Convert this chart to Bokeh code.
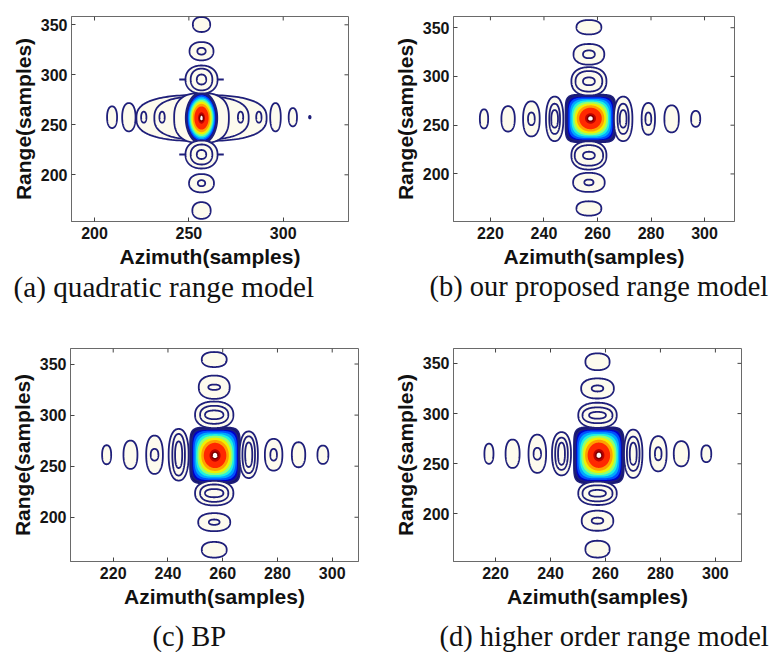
import numpy as np
from bokeh.plotting import figure
from bokeh.models import Range1d, FixedTicker
from bokeh.core.properties import value
from bokeh.layouts import column, row
from bokeh.embed import file_html
from bokeh.resources import INLINE

# ---------------- data ----------------
YTICKS = [200, 250, 300, 350]
A_XTICKS = [200, 250, 300]
BCD_XTICKS = [220, 240, 260, 280, 300]

# (a) quadratic range model
A_XLIM = [187.8, 334.6]
A_YLIM = [153.3, 358.3]
A_CORE = [256.7, 256.8, 16.8, 51.6]          # azimuth, range, width, height
A_ENV_W = [69.0, 50.0, 29.0]                  # envelope contours around main lobe
A_ENV_H = [46.0, 43.0, 50.0]
A_SPIKE_RG = [295.3, 220.3]
A_RING_AZ = [256.7, 256.7, 256.7, 256.7, 256.7, 256.7, 256.7, 256.7, 256.7, 256.7, 256.7, 256.7,
             209.3, 218.2, 226.1, 235.8, 277.4, 287.1, 295.9, 305.1, 314.1]
A_RING_RG = [350.3, 323.6, 323.6, 295.3, 295.3, 295.3, 220.3, 220.3, 220.3, 191.6, 191.6, 164.3,
             257.6, 257.6, 257.6, 257.6, 257.6, 257.6, 257.6, 257.6, 257.6]
A_RING_W = [9.2, 12.7, 4.4, 17.0, 11.5, 5.0, 17.0, 11.5, 5.0, 13.2, 3.9, 9.7,
            5.3, 7.1, 2.8, 2.8, 2.8, 2.8, 5.6, 4.4, 0.8]
A_RING_H = [15.0, 18.3, 6.7, 28.0, 21.7, 10.0, 28.0, 20.0, 9.0, 18.3, 6.0, 16.7,
            21.7, 28.3, 11.0, 11.0, 11.0, 11.0, 28.3, 18.3, 2.5]

# (b) our proposed range model
B_XLIM = [206.2, 311.2]
B_YLIM = [151.2, 361.5]
B_CORE = [257.4, 256.9, 18.7, 49.0]
B_RING_AZ = [217.6, 226.6, 235.3, 235.3, 244.0, 244.0, 244.0, 269.6, 269.6, 269.6, 279.0, 279.0, 287.7, 296.7,
             256.8, 256.8, 256.8, 256.8, 256.8, 256.8, 256.8, 256.8, 256.8, 256.8, 256.8, 256.8]
B_RING_RG = [256.5, 256.5, 256.5, 256.5, 256.5, 256.5, 256.5, 256.5, 256.5, 256.5, 256.5, 256.5, 256.5, 256.5,
             350.5, 322.7, 322.7, 295.0, 295.0, 295.0, 219.0, 219.0, 219.0, 191.3, 191.3, 164.6]
B_RING_W = [3.1, 5.0, 6.2, 2.5, 6.5, 4.0, 2.5, 6.9, 4.2, 2.5, 5.0, 2.2, 5.4, 3.4,
            9.3, 11.5, 4.4, 13.1, 10.0, 4.4, 13.1, 10.6, 4.4, 11.8, 3.4, 9.3]
B_RING_H = [19.6, 26.0, 36.0, 13.0, 45.6, 31.0, 18.0, 45.6, 31.0, 18.0, 32.6, 13.0, 27.7, 16.3,
            14.7, 21.2, 8.0, 29.0, 21.0, 8.0, 29.0, 21.0, 7.5, 19.6, 5.9, 14.7]

# (c) BP
C_XLIM = [204.4, 309.6]
C_YLIM = [156.7, 365.2]
C_CORE = [257.2, 260.5, 18.3, 55.0]
C_RING_AZ = [217.6, 226.3, 235.1, 235.1, 243.9, 243.9, 243.9, 269.5, 269.5, 269.5, 278.6, 278.6, 287.7, 296.6,
             256.9, 256.9, 256.9, 256.9, 256.9, 256.9, 256.9, 256.9, 256.9, 256.9, 256.9, 256.9]
C_RING_RG = [261.2, 261.2, 261.2, 261.2, 261.2, 261.2, 261.2, 261.2, 261.2, 261.2, 261.2, 261.2, 261.2, 261.2,
             354.4, 327.3, 327.3, 300.3, 300.3, 300.3, 223.6, 223.6, 223.6, 195.2, 195.2, 168.2]
C_RING_W = [3.3, 5.1, 6.1, 2.8, 7.3, 4.6, 2.6, 6.7, 4.6, 2.6, 6.4, 2.4, 4.9, 4.0,
            9.1, 11.3, 4.3, 14.0, 10.3, 6.7, 14.0, 10.3, 6.7, 11.7, 3.9, 9.1]
C_RING_H = [18.6, 27.7, 37.5, 11.4, 50.5, 40.7, 26.0, 45.6, 36.0, 24.0, 31.0, 11.4, 24.5, 18.0,
            14.7, 22.8, 5.2, 26.0, 17.6, 8.5, 24.0, 17.0, 8.0, 17.6, 5.2, 15.3]

# (d) higher order range model
D_XLIM = [204.7, 309.5]
D_YLIM = [152.7, 364.8]
D_CORE = [257.6, 258.5, 18.2, 56.0]
D_RING_AZ = [217.6, 226.2, 235.2, 235.2, 244.0, 244.0, 244.0, 270.1, 270.1, 270.1, 279.2, 279.2, 287.6, 296.7,
             257.1, 257.1, 257.1, 257.1, 257.1, 257.1, 257.1, 257.1, 257.1, 257.1, 257.1, 257.1]
D_RING_RG = [260.0, 260.0, 260.0, 260.0, 260.0, 260.0, 260.0, 260.0, 260.0, 260.0, 260.0, 260.0, 260.0, 260.0,
             351.6, 325.0, 325.0, 298.3, 298.3, 298.3, 220.6, 220.6, 220.6, 193.3, 193.3, 165.0]
D_RING_W = [3.3, 5.1, 6.4, 2.7, 6.9, 4.6, 2.5, 6.7, 4.6, 2.5, 6.1, 2.4, 5.5, 3.6,
            8.8, 11.9, 4.2, 14.0, 10.9, 6.1, 14.0, 10.9, 6.1, 11.5, 4.2, 8.8]
D_RING_H = [20.0, 28.3, 38.0, 11.7, 43.0, 32.0, 22.0, 48.0, 34.0, 22.0, 35.0, 13.0, 25.0, 16.7,
            16.7, 20.0, 6.0, 25.0, 15.7, 6.7, 23.3, 16.0, 6.7, 20.0, 6.0, 16.7]

CAPTIONS = ["(a) quadratic range model", "(b) our proposed range model",
            "(c) BP", "(d) higher order range model"]

# ---------------- style ----------------
NAVY = "#1f1f7a"
RING_FILL = "#fdfbee"
AXIS_GRAY = "#6a6a6a"
TICK_LEN = 4
CORE_FRAC = [1.0, 0.94, 0.88, 0.82, 0.76, 0.70, 0.63, 0.55, 0.45, 0.22, 0.12]
CORE_EXP = [6.0, 5.0, 4.2, 3.6, 3.0, 2.6, 2.3, 2.1, 2.0, 2.0, 2.0]
CORE_COL = ["#14146e", "#0000c8", "#0050ff", "#00a8ff", "#20f0e0", "#90ff70",
            "#f0f000", "#ffa000", "#ff2800", "#c00000", "#ffffff"]


def superellipse(cx, cy, w, h, n, m=160):
    t = np.linspace(0, 2 * np.pi, m)
    c, s = np.cos(t), np.sin(t)
    x = cx + (w / 2.0) * np.sign(c) * np.abs(c) ** (2.0 / n)
    y = cy + (h / 2.0) * np.sign(s) * np.abs(s) ** (2.0 / n)
    return x.tolist(), y.tolist()


def rings(az, rg, w, h, n):
    xs, ys = [], []
    for a_, r_, w_, h_ in zip(az, rg, w, h):
        x, y = superellipse(a_, r_, w_, h_, n)
        xs.append(x)
        ys.append(y)
    return xs, ys


def panel(w, h, xlim, ylim, borders, xticks):
    left, right, top, bottom = borders
    p = figure(width=w, height=h, x_range=Range1d(*xlim), y_range=Range1d(*ylim),
               output_backend="svg", toolbar_location=None,
               min_border_left=left, min_border_right=right,
               min_border_top=top, min_border_bottom=bottom)
    p.xaxis.ticker = FixedTicker(ticks=xticks)
    p.yaxis.ticker = FixedTicker(ticks=YTICKS)
    p.xaxis.axis_label = "Azimuth(samples)"
    p.yaxis.axis_label = "Range(samples)"
    for ax in list(p.xaxis) + list(p.yaxis):
        ax.major_tick_in = TICK_LEN
        ax.major_tick_out = 0
        ax.minor_tick_line_color = None
        ax.axis_line_color = AXIS_GRAY
        ax.major_tick_line_color = "#444444"
        ax.major_label_text_font = "Liberation Sans"
        ax.major_label_text_font_style = "bold"
        ax.major_label_text_font_size = "16px"
        ax.major_label_text_color = "#151515"
        ax.major_label_text_line_height = 1.0
        ax.major_label_standoff = 5
        ax.axis_label_text_font = "Liberation Sans"
        ax.axis_label_text_font_style = "bold"
        ax.axis_label_text_font_size = "21px"
        ax.axis_label_text_color = "#111111"
        ax.axis_label_text_line_height = 1.0
        ax.axis_label_standoff = 3
    p.yaxis.major_label_standoff = 4
    p.xgrid.visible = False
    p.ygrid.visible = False
    p.outline_line_color = AXIS_GRAY
    # inward ticks on the top and right edges of the box
    fw = w - left - right
    fh = h - top - bottom
    ux = (xlim[1] - xlim[0]) / fw     # data units per pixel
    uy = (ylim[1] - ylim[0]) / fh
    p.segment(x0=xticks, y0=[ylim[1]] * len(xticks), x1=xticks,
              y1=[ylim[1] - TICK_LEN * uy] * len(xticks), line_color="#444444", line_width=1)
    p.segment(x0=[xlim[1]] * len(YTICKS), y0=YTICKS, x1=[xlim[1] - TICK_LEN * ux] * len(YTICKS),
              y1=YTICKS, line_color="#444444", line_width=1)
    return p


def caption_strip(height, xs, y_from_top, texts, sizes):
    s = figure(width=770, height=height, x_range=Range1d(0, 770), y_range=Range1d(0, height),
               output_backend="svg", toolbar_location=None, x_axis_type=None, y_axis_type=None,
               min_border=0)
    s.outline_line_color = None
    s.xgrid.visible = False
    s.ygrid.visible = False
    for x, t, fs in zip(xs, texts, sizes):
        s.text(x=[x], y=[height - y_from_top], text=[t], text_align="left",
               text_baseline="middle", text_font=value("Liberation Serif"),
               text_font_size=value(fs), text_line_height=1.0, text_color="#111111")
    return s


def draw_core(p, core, square):
    cx, cy, cw, ch = core
    xs, ys = [], []
    for f, n in zip(CORE_FRAC, CORE_EXP):
        x, y = superellipse(cx, cy, cw * f, ch * f, n if square else 2.0)
        xs.append(x)
        ys.append(y)
    p.patches(xs[:-1], ys[:-1], fill_color=CORE_COL[:-1], line_color=None)
    p.patches([xs[-1]], [ys[-1]], fill_color="#ffffff", line_color="#7a0000", line_width=1.5)
    p.multi_line(xs[:2], ys[:2], line_color=NAVY, line_width=1.6)


def draw_rings(p, az, rg, w, h, n):
    rx, ry = rings(az, rg, w, h, n)
    p.patches(rx, ry, fill_color=RING_FILL, line_color=NAVY, line_width=1.8)


# ---------------- panels ----------------
pa = panel(386, 270, A_XLIM, A_YLIM, (71, 38, 16, 49), A_XTICKS)
ex, ey = rings([A_CORE[0]] * 3, [A_CORE[1]] * 3, A_ENV_W, A_ENV_H, 2.6)
pa.patches(ex, ey, fill_color=RING_FILL, line_color=NAVY, line_width=1.8)
draw_core(pa, A_CORE, False)
draw_rings(pa, A_RING_AZ, A_RING_RG, A_RING_W, A_RING_H, 2.2)
pa.segment(x0=[A_CORE[0] - 8.5] * 2, y0=A_SPIKE_RG, x1=[A_CORE[0] - 11.8] * 2, y1=A_SPIKE_RG,
           line_color=NAVY, line_width=2)
pa.segment(x0=[A_CORE[0] + 8.5] * 2, y0=A_SPIKE_RG, x1=[A_CORE[0] + 11.8] * 2, y1=A_SPIKE_RG,
           line_color=NAVY, line_width=2)

pb = panel(384, 270, B_XLIM, B_YLIM, (67, 36, 6, 49), BCD_XTICKS)
draw_core(pb, B_CORE, True)
draw_rings(pb, B_RING_AZ, B_RING_RG, B_RING_W, B_RING_H, 2.3)

cap1 = caption_strip(34, [13, 429], 16, CAPTIONS[:2], ["29.2px", "28.5px"])

pc = panel(386, 314, C_XLIM, C_YLIM, (70, 28, 44, 57), BCD_XTICKS)
draw_core(pc, C_CORE, True)
draw_rings(pc, C_RING_AZ, C_RING_RG, C_RING_W, C_RING_H, 2.3)

pd = panel(384, 314, D_XLIM, D_YLIM, (67, 29, 44, 57), BCD_XTICKS)
draw_core(pd, D_CORE, True)
draw_rings(pd, D_RING_AZ, D_RING_RG, D_RING_W, D_RING_H, 2.3)

cap2 = caption_strip(34, [152, 439], 18, CAPTIONS[2:], ["28.5px", "28.5px"])

layout = column(row(pa, pb), cap1, row(pc, pd), cap2)
open("out.html", "w").write(file_html(layout, INLINE))
